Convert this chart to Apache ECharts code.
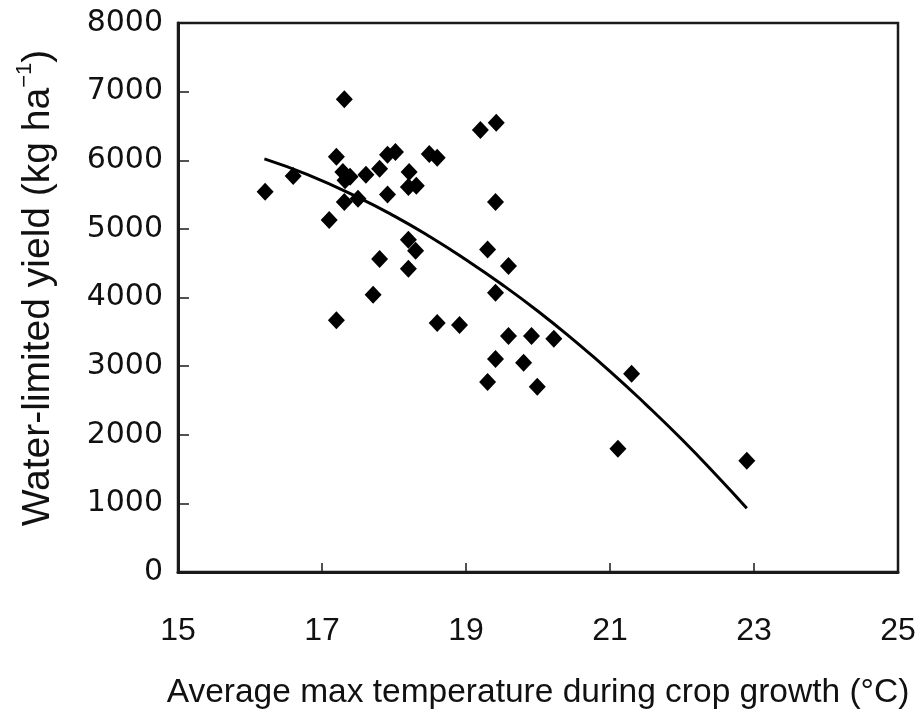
<!DOCTYPE html>
<html>
<head>
<meta charset="utf-8">
<script src="https://cdn.jsdelivr.net/npm/echarts@6/dist/echarts.min.js"></script>
<style>
html,body{margin:0;padding:0;background:#fff;}
#chart{width:920px;height:717px;}
</style>
</head>
<body>
<div id="chart"></div>
<script>
var tempX = [16.21,16.60,17.31,17.20,17.29,17.39,17.32,17.61,17.80,17.91,18.02,18.21,18.20,18.31,18.49,18.60,19.20,19.42,19.41,17.91,17.31,17.50,17.10,18.20,18.30,17.80,18.20,17.71,17.20,18.60,18.91,19.30,19.59,19.41,19.59,19.91,19.41,19.80,19.30,19.99,20.22,21.30,21.11,22.90];
var yieldY = [5540,5770,6890,6050,5830,5760,5710,5790,5875,6080,6120,5830,5610,5630,6090,6035,6440,6545,5390,5500,5390,5440,5130,4840,4680,4560,4420,4040,3670,3630,3600,4700,4460,4070,3440,3440,3105,3050,2770,2700,3400,2890,1795,1620];
// Trend curve
var trendX = [16.2,16.8,17.5,18.0,18.5,19.0,19.5,20.0,20.5,21.0,21.5,22.0,22.5,22.9];
var trendY = [6020,5790,5460,5190,4885,4550,4190,3800,3375,2925,2440,1930,1385,930];
// Axis ticks
var xTickLabels = [15,17,19,21,23,25];
var yTickLabels = [0,1000,2000,3000,4000,5000,6000,7000,8000];

var xOrigin = xTickLabels[0];
var scatterData = tempX.map(function(x,i){return [x - xOrigin, yieldY[i]];});
var trendData = trendX.map(function(x,i){return [x - xOrigin, trendY[i]];});

var chart = echarts.init(document.getElementById('chart'), null, {renderer:'canvas'});
var axisColor = '#1a1a1a';
chart.setOption({
  animation:false,
  backgroundColor:'#fff',
  grid:{left:178, right:22, top:23, bottom:145, show:true, borderColor:axisColor, borderWidth:2.5, backgroundColor:'transparent'},
  xAxis:{
    type:'value',
    min:0,
    max:xTickLabels[xTickLabels.length-1]-xOrigin,
    interval:xTickLabels[1]-xTickLabels[0],
    name:'Average max temperature during crop growth (°C)',
    nameLocation:'middle',
    nameGap:104,
    nameTextStyle:{fontFamily:'Liberation Sans', fontSize:33.5, color:'#111'},
    axisLine:{show:true, onZero:false, lineStyle:{color:axisColor, width:3}},
    axisTick:{show:true, inside:true, length:9, lineStyle:{color:axisColor, width:1.5}},
    splitLine:{show:false},
    axisLabel:{margin:43, fontFamily:'Liberation Sans', fontSize:32, color:'#111',
      formatter:function(v){return String(v + xOrigin);}}
  },
  yAxis:{
    type:'value',
    min:yTickLabels[0],
    max:yTickLabels[yTickLabels.length-1],
    interval:yTickLabels[1]-yTickLabels[0],
    name:'{t|Water-limited yield (kg ha}{sup|−1}{t|)}',
    nameLocation:'middle',
    nameGap:120,
    nameRotate:90,
    nameTextStyle:{
      padding:[0,0,0,19],
      rich:{
        t:{fontFamily:'Liberation Sans', fontSize:39, color:'#111', lineHeight:44, verticalAlign:'bottom'},
        sup:{fontFamily:'Liberation Sans', fontSize:22, color:'#111', lineHeight:44, verticalAlign:'top'}
      }
    },
    axisLine:{show:true, lineStyle:{color:axisColor, width:3}},
    axisTick:{show:true, inside:true, length:11, lineStyle:{color:axisColor, width:1.5}},
    splitLine:{show:false},
    axisLabel:{margin:15, fontFamily:'DejaVu Sans', fontSize:30, color:'#111',
      formatter:function(v){return String(v);}}
  },
  series:[
    {
      type:'scatter',
      symbol:'diamond',
      symbolSize:[17,18],
      itemStyle:{color:'#000', opacity:1},
      data:scatterData,
      z:3
    },
    {
      type:'line',
      smooth:true,
      showSymbol:false,
      symbol:'none',
      lineStyle:{color:'#000', width:3},
      data:trendData,
      z:2
    }
  ]
});
</script>
</body>
</html>
